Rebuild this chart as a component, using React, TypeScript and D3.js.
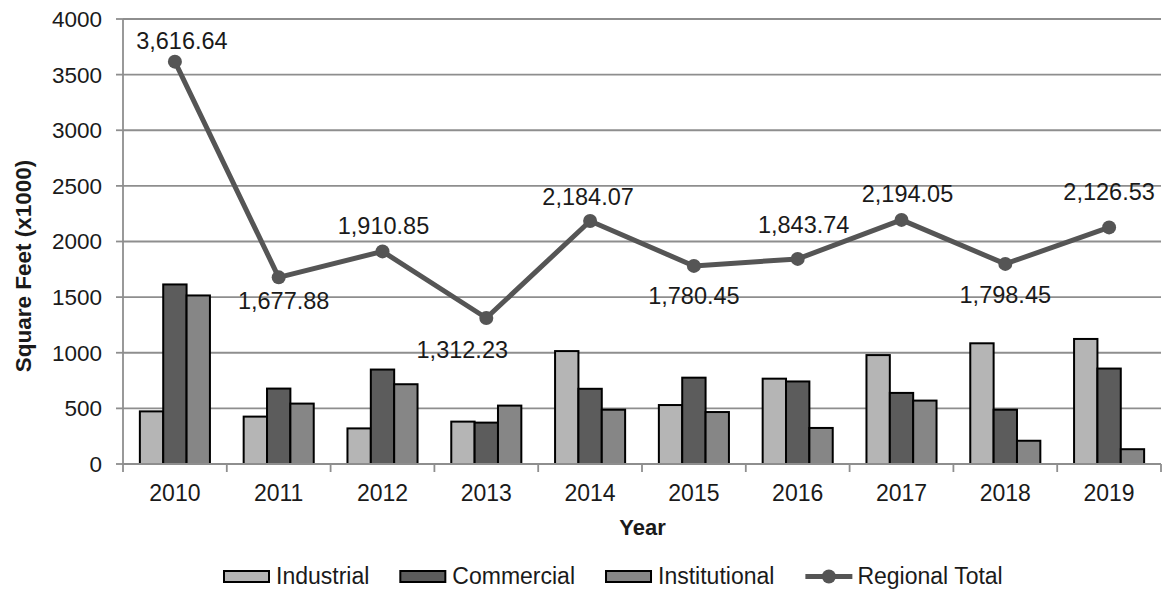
import React, { useEffect, useRef } from "react";
import * as d3 from "d3";

const years = ["2010", "2011", "2012", "2013", "2014", "2015", "2016", "2017", "2018", "2019"];
const industrial = [473, 426, 320, 381, 1015, 530, 767, 979, 1085, 1124];
const commercial = [1614, 678, 849, 372, 676, 776, 742, 639, 488, 858];
const institutional = [1515, 543, 717, 525, 488, 467, 324, 570, 209, 133];
const regionalTotal = [3616.64, 1677.88, 1910.85, 1312.23, 2184.07, 1780.45, 1843.74, 2194.05, 1798.45, 2126.53];
const yTicks = [0, 500, 1000, 1500, 2000, 2500, 3000, 3500, 4000];
// label offset from point (dx, dy of text centre), px
const labelOffsets: [number, number][] = [
  [7, -21], [5, 23], [1, -26], [-24, 32], [-2, -24],
  [0, 30], [6, -34], [6, -26], [0, 31], [0, -36],
];

const seriesNames = ["Industrial", "Commercial", "Institutional"];
const seriesColors = ["#b5b5b5", "#5c5c5c", "#868686"];
const lineColor = "#555555";
const FONT = "'Liberation Sans', Arial, sans-serif";

export default function App() {
  const ref = useRef<SVGSVGElement>(null);

  useEffect(() => {
    const svg = d3.select(ref.current);
    svg.selectAll("*").remove();

    const left = 123, right = 1161, top = 19, bottom = 464;
    const x = d3.scaleBand<string>().domain(years).range([left, right]).padding(0);
    const y = d3.scaleLinear().domain([0, 4000]).range([bottom, top]);
    const bw = x.bandwidth();
    const groupW = bw * 0.675;
    const inner = d3.scaleBand<string>().domain(seriesNames).range([0, groupW]).padding(0);

    // gridlines
    svg.append("g").selectAll("line").data(yTicks.filter(t => t > 0)).join("line")
      .attr("x1", left).attr("x2", right)
      .attr("y1", d => y(d)).attr("y2", d => y(d))
      .attr("stroke", "#8e8e8e").attr("stroke-width", 1.8);

    // y axis
    const ya = svg.append("g");
    ya.append("line").attr("x1", left).attr("x2", left).attr("y1", top).attr("y2", bottom)
      .attr("stroke", "#8e8e8e").attr("stroke-width", 1.8);
    ya.selectAll("line.t").data(yTicks).join("line").attr("class", "t")
      .attr("x1", left - 7).attr("x2", left).attr("y1", d => y(d)).attr("y2", d => y(d))
      .attr("stroke", "#8e8e8e").attr("stroke-width", 1.8);
    ya.selectAll("text").data(yTicks).join("text")
      .attr("x", 102).attr("y", d => y(d)).attr("dy", "0.35em")
      .attr("text-anchor", "end").attr("font-family", FONT).attr("font-size", 22.5)
      .attr("fill", "#1a1a1a").text(d => String(d));

    // bars
    const allSeries = [industrial, commercial, institutional];
    allSeries.forEach((vals, si) => {
      svg.append("g").selectAll("rect").data(vals).join("rect")
        .attr("x", (d, i) => (x(years[i]) as number) + (bw - groupW) / 2 + (inner(seriesNames[si]) as number))
        .attr("width", inner.bandwidth())
        .attr("y", d => y(d))
        .attr("height", d => bottom - y(d))
        .attr("fill", seriesColors[si])
        .attr("stroke", "#000").attr("stroke-width", 2);
    });

    // x axis
    const xa = svg.append("g");
    xa.append("line").attr("x1", left).attr("x2", right).attr("y1", bottom).attr("y2", bottom)
      .attr("stroke", "#8e8e8e").attr("stroke-width", 1.8);
    const bounds = years.map(yv => x(yv) as number).concat([right]);
    xa.selectAll("line.t").data(bounds).join("line").attr("class", "t")
      .attr("x1", d => d).attr("x2", d => d).attr("y1", bottom).attr("y2", bottom + 8)
      .attr("stroke", "#8e8e8e").attr("stroke-width", 1.8);
    xa.selectAll("text").data(years).join("text")
      .attr("x", d => (x(d) as number) + bw / 2).attr("y", 501)
      .attr("text-anchor", "middle").attr("font-family", FONT).attr("font-size", 23)
      .attr("fill", "#1a1a1a").text(d => d);

    // axis titles
    svg.append("text").attr("x", 642.5).attr("y", 535).attr("text-anchor", "middle")
      .attr("font-family", FONT).attr("font-size", 22).attr("font-weight", "bold")
      .attr("fill", "#1a1a1a").text("Year");
    svg.append("text").attr("transform", "translate(31,266) rotate(-90)")
      .attr("text-anchor", "middle").attr("font-family", FONT).attr("font-size", 22.5)
      .attr("font-weight", "bold").attr("fill", "#1a1a1a").text("Square Feet (x1000)");

    // line
    const cx = (i: number) => (x(years[i]) as number) + bw / 2;
    const line = d3.line<number>().x((d, i) => cx(i)).y(d => y(d));
    svg.append("path").datum(regionalTotal).attr("d", line)
      .attr("fill", "none").attr("stroke", lineColor).attr("stroke-width", 5)
      .attr("stroke-linejoin", "round");
    svg.append("g").selectAll("circle").data(regionalTotal).join("circle")
      .attr("cx", (d, i) => cx(i)).attr("cy", d => y(d)).attr("r", 7).attr("fill", lineColor);

    const fmt = d3.format(",.2f");
    svg.append("g").selectAll("text").data(regionalTotal).join("text")
      .attr("x", (d, i) => cx(i) + labelOffsets[i][0])
      .attr("y", (d, i) => y(d) + labelOffsets[i][1])
      .attr("dy", "0.35em").attr("text-anchor", "middle")
      .attr("font-family", FONT).attr("font-size", 23.5).attr("fill", "#1a1a1a")
      .text(d => fmt(d));

    // legend
    const lg = svg.append("g");
    let lx = 224;
    const items = [...seriesNames, "Regional Total"];
    items.forEach((name, i) => {
      if (i < 3) {
        lg.append("rect").attr("x", lx).attr("y", 571).attr("width", 45).attr("height", 11)
          .attr("fill", seriesColors[i]).attr("stroke", "#000").attr("stroke-width", 2);
      } else {
        lg.append("line").attr("x1", lx).attr("x2", lx + 47).attr("y1", 576.5).attr("y2", 576.5)
          .attr("stroke", lineColor).attr("stroke-width", 5);
        lg.append("circle").attr("cx", lx + 23.5).attr("cy", 576.5).attr("r", 7).attr("fill", lineColor);
      }
      const t = lg.append("text").attr("x", lx + 52).attr("y", 584)
        .attr("font-family", FONT).attr("font-size", 23).attr("fill", "#1a1a1a").text(name);
      const w = (t.node() as SVGTextElement).getComputedTextLength();
      lx = lx + 52 + w + 31;
    });
  }, []);

  return (
    <svg ref={ref} width={1164} height={589}
      style={{ position: "absolute", left: 0, top: 0, background: "#fff" }} />
  );
}
